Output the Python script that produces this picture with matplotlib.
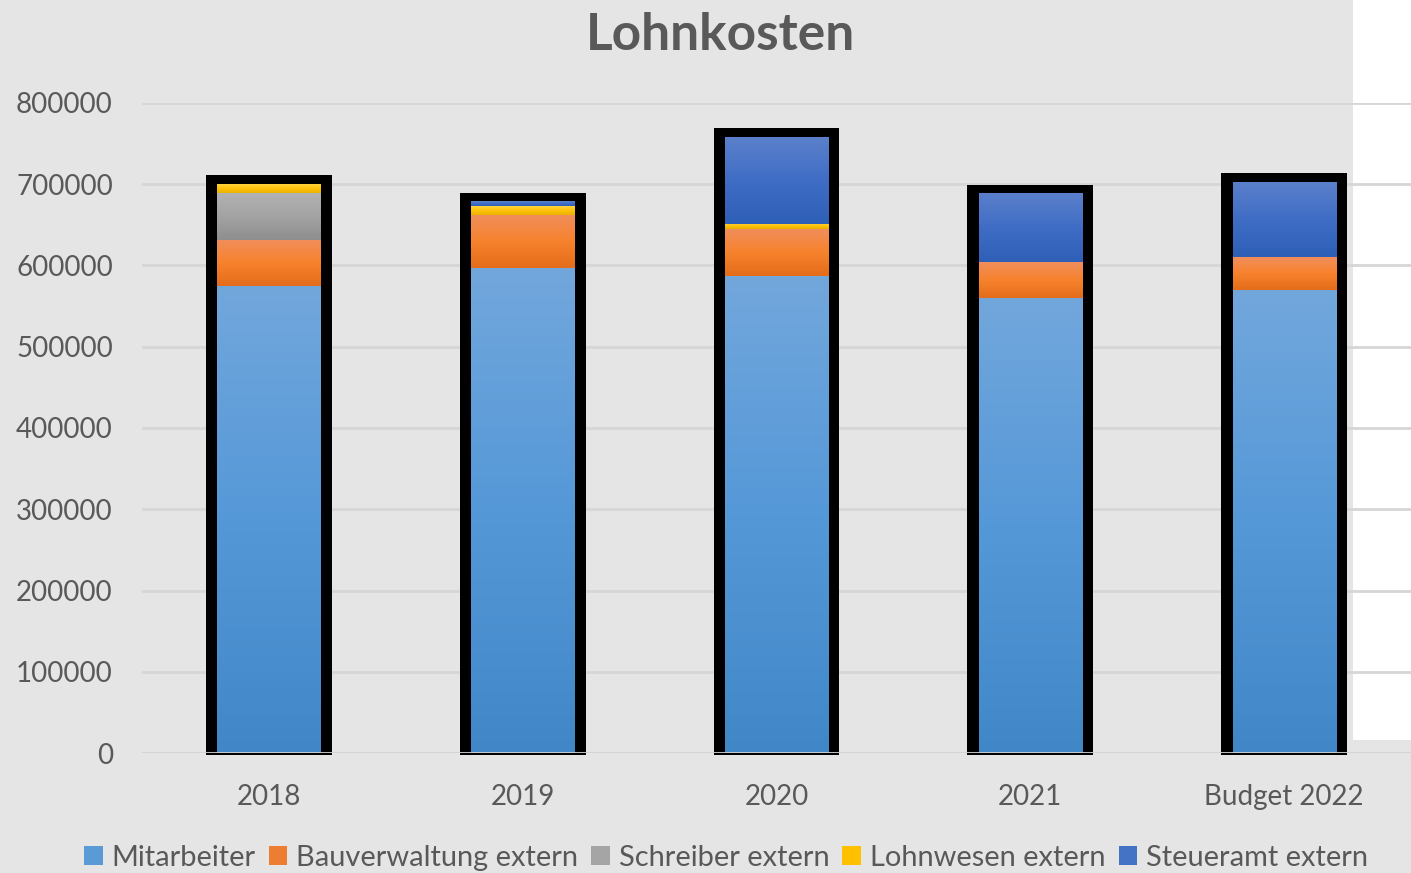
import numpy as np
import matplotlib
matplotlib.use("Agg")
import matplotlib.pyplot as plt
from matplotlib.colors import LinearSegmentedColormap
from matplotlib.patches import Rectangle

categories = ["2018", "2019", "2020", "2021", "Budget 2022"]
mitarbeiter = [575000, 597000, 587000, 560000, 570000]
bauverwaltung = [56600, 65200, 57800, 44300, 40600]
schreiber = [57800, 0, 0, 0, 0]
lohnwesen = [11000, 11000, 6200, 0, 0]
steueramt = [0, 5000, 107000, 83700, 92300]

series = [
    ("Mitarbeiter", mitarbeiter, ["#4187c7", "#5598d8", "#72a7dc"], "#5b9bd5"),
    ("Bauverwaltung extern", bauverwaltung, ["#e46c1b", "#f7822c", "#f18e5c"], "#ed7d31"),
    ("Schreiber extern", schreiber, ["#8e8e8e", "#a3a3a3", "#b2b2b2"], "#a5a5a5"),
    ("Lohnwesen extern", lohnwesen, ["#eab200", "#ffc20a", "#ffd33c"], "#ffc000"),
    ("Steueramt extern", steueramt, ["#2e5fb6", "#3f6dc5", "#5b80cb"], "#4472c4"),
]

FONT = "Lato"
TXT = "#595959"
BG = "#e5e5e5"

fig = plt.figure(figsize=(14.11, 8.73), dpi=100, facecolor=BG)
# white strip on the right side
fig.add_artist(Rectangle((1353 / 1411, 133 / 873), 1 - 1353 / 1411, 1 - 133 / 873,
                         transform=fig.transFigure, facecolor="white",
                         edgecolor="none", zorder=-5))

ax = fig.add_axes([142 / 1411, (873 - 753) / 873, (1411 - 142) / 1411, 650 / 873])
ax.patch.set_visible(False)

x = np.arange(len(categories))
totals = np.sum([mitarbeiter, bauverwaltung, schreiber, lohnwesen, steueramt], axis=0)

# black frame behind each stacked bar
ax.bar(x, totals + 11000 + 2500, width=0.496, bottom=-2500, color="black",
       zorder=2, clip_on=False)

bottom = np.zeros(len(categories))
for name, vals, stops, flat in series:
    vals = np.array(vals, dtype=float)
    bars = ax.bar(x, vals, width=0.406, bottom=bottom, color=flat, label=name, zorder=3)
    cmap = LinearSegmentedColormap.from_list(name, stops)
    grad = np.linspace(0, 1, 256).reshape(-1, 1)
    for b in bars:
        if b.get_height() <= 0:
            continue
        bx, by, bw, bh = b.get_x(), b.get_y(), b.get_width(), b.get_height()
        ax.imshow(grad, extent=[bx, bx + bw, by, by + bh], origin="lower",
                  cmap=cmap, aspect="auto", interpolation="bilinear", zorder=4)
    bottom += vals

ax.axhline(0, color="#d4d4d4", lw=2, zorder=5)

ax.set_xlim(-0.5, 4.5)
ax.set_ylim(0, 800000)
ax.set_yticks(np.arange(0, 800001, 100000))
ax.set_xticks(x)
ax.set_xticklabels(categories)
ax.grid(axis="y", color="#d6d6d6", lw=2, zorder=0)
ax.set_axisbelow(True)
for s in ax.spines.values():
    s.set_visible(False)
ax.tick_params(length=0, labelsize=20, labelcolor=TXT)
ax.tick_params(axis="y", pad=21)
ax.tick_params(axis="x", pad=22)
for lab in ax.get_xticklabels() + ax.get_yticklabels():
    lab.set_fontfamily(FONT)

fig.text(721 / 1411, 1 - 36 / 873, "Lohnkosten", ha="center", va="center",
         fontsize=37, fontweight="bold", color=TXT, family=FONT)

handles = [Rectangle((0, 0), 1, 1, facecolor=s[3]) for s in series]
leg = fig.legend(handles, [s[0] for s in series], loc="center",
                 bbox_to_anchor=(726 / 1411, 1 - 858 / 873), ncol=5, frameon=False,
                 prop={"family": FONT, "size": 20.9}, handlelength=0.65, handleheight=0.65,
                 handletextpad=0.3, columnspacing=0.45, labelcolor=TXT)

fig.savefig("out.png", dpi=100, facecolor=BG)
